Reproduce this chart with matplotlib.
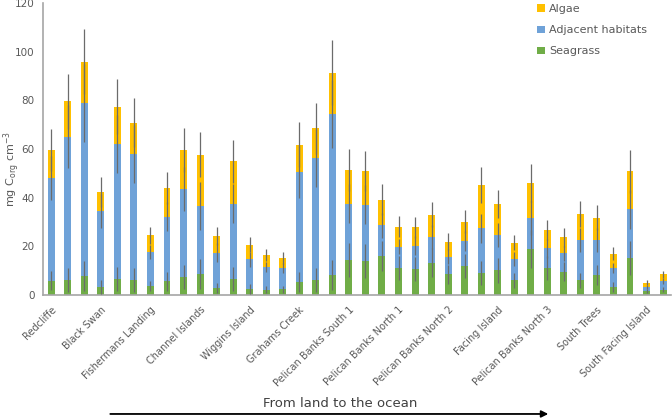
import numpy as np
import matplotlib
matplotlib.use("Agg")
import matplotlib.pyplot as plt

# tick labels (Excel showed only every third category)
sites = ["Redcliffe", "Black Swan", "Fishermans Landing", "Channel Islands",
         "Wiggins Island", "Grahams Creek", "Pelican Banks South 1",
         "Pelican Banks North 1", "Pelican Banks North 2", "Facing Island",
         "Pelican Banks North 3", "South Trees", "South Facing Island"]

seagrass = [5.9, 6.2, 7.8, 3.3, 6.7, 6.2, 3.7, 5.6, 7.3, 8.6, 3.0, 6.7, 2.5,
            2.2, 2.3, 5.3, 6.2, 8.2, 14.4, 14.1, 16.0, 11.2, 10.7, 13.3, 8.5,
            11.9, 8.9, 10.1, 6.0, 18.9, 11.0, 9.6, 6.0, 8.2, 3.4, 15.2, 1.6, 2.2]
adjacent = [42.2, 58.9, 71.0, 31.2, 55.4, 51.8, 14.0, 26.5, 36.1, 28.0, 14.4,
            30.8, 12.2, 9.4, 8.7, 45.4, 50.2, 66.2, 23.1, 22.9, 12.6, 8.7, 9.6,
            10.5, 7.2, 10.2, 18.5, 14.6, 8.8, 12.6, 8.2, 7.5, 16.6, 14.4, 7.6,
            20.0, 1.8, 3.7]
algae = [11.5, 14.4, 17.1, 7.8, 15.3, 12.8, 6.8, 11.9, 16.2, 21.1, 6.8, 17.4,
         5.9, 4.8, 4.3, 11.0, 12.1, 17.0, 13.9, 14.0, 10.6, 8.2, 7.5, 9.2, 6.2,
         8.0, 17.8, 12.6, 6.7, 14.4, 7.5, 6.6, 10.7, 9.2, 5.9, 15.6, 1.7, 2.6]

seagrass_err = [4, 5, 6, 3, 5, 5, 2, 4, 5, 6, 2, 5, 2, 1.5, 1.5, 4, 5, 6, 7, 7,
                6, 5, 5, 6, 4, 5, 5, 5, 3, 8, 5, 4, 3, 4, 2, 7, 0.7, 1]
adjacent_err = [9, 13, 16, 7, 12, 12, 3, 6, 9, 10, 4, 8, 3, 2, 2, 11, 12, 14,
                8, 8, 5, 3, 4, 5, 3, 4, 6, 5, 3, 7, 4, 3, 5, 5, 2, 8, 0.8, 1.2]
algae_err = [8.8, 11.3, 13.4, 6.3, 11.2, 10.2, 3.6, 6.6, 9.0, 9.3, 3.6, 8.8,
             3.1, 2.4, 2.5, 9.3, 10.5, 13.4, 8.5, 8.2, 6.4, 4.4, 4.4, 5.2, 3.4,
             4.8, 7.5, 5.7, 3.2, 7.8, 4.1, 4.0, 5.2, 5.3, 2.7, 8.9, 1.1, 1.5]

c_green = "#70AD47"
c_blue = "#6FA2D8"
c_yellow = "#FFC000"

x = np.arange(len(seagrass))
sg = np.array(seagrass)
adj = np.array(adjacent)
alg = np.array(algae)

fig = plt.figure(figsize=(6.72, 4.19), dpi=100)
ax = fig.add_axes([0.064, 0.296, 0.935, 0.697])

w = 0.42
ax.bar(x, sg, w, color=c_green, label="Seagrass", zorder=2)
ax.bar(x, adj, w, bottom=sg, color=c_blue, label="Adjacent habitats", zorder=2)
ax.bar(x, alg, w, bottom=sg + adj, color=c_yellow, label="Algae", zorder=2)

# error bars drawn at top of each stacked segment
for top, err in [(sg, seagrass_err), (sg + adj, adjacent_err),
                 (sg + adj + alg, algae_err)]:
    ax.errorbar(x, top, yerr=err, fmt="none", ecolor="#6b6b6b",
                elinewidth=0.9, capsize=0, zorder=3)

ax.set_xlim(-0.5, len(x) - 0.5)
ax.set_ylim(0, 120)
ax.set_yticks(range(0, 121, 20))
ax.set_xticks(x[::3])
ax.set_xticklabels(sites, rotation=45, ha="right", rotation_mode="anchor",
                   fontsize=7, color="#595959")
ax.tick_params(axis="x", length=0, pad=7)
ax.tick_params(axis="y", length=0, labelsize=7.5, labelcolor="#595959", pad=6)
for s in ["top", "right"]:
    ax.spines[s].set_visible(False)
for s in ["left", "bottom"]:
    ax.spines[s].set_color("#a6a6a6")
    ax.spines[s].set_linewidth(1.2)

ax.set_ylabel(r"mg C$_{\mathregular{org}}$ cm$^{\mathregular{-3}}$",
              fontsize=8, color="#595959")
ax.yaxis.set_label_coords(-0.034, 0.43)

handles, labels = ax.get_legend_handles_labels()
ax.legend(handles[::-1], labels[::-1], loc="upper left",
          bbox_to_anchor=(0.77, 1.03), frameon=False, fontsize=8,
          labelcolor="#595959", handlelength=0.7, handleheight=0.7,
          handletextpad=0.4, labelspacing=1.0)

fig.text(0.506, 0.022, "From land to the ocean", ha="center", va="bottom",
         fontsize=9.5, color="#404040")
fig.add_artist(matplotlib.patches.FancyArrowPatch(
    (0.16, 0.012), (0.82, 0.012), transform=fig.transFigure,
    arrowstyle="-|>", mutation_scale=10, color="black", lw=1.3))

fig.savefig("out.png", dpi=100)
